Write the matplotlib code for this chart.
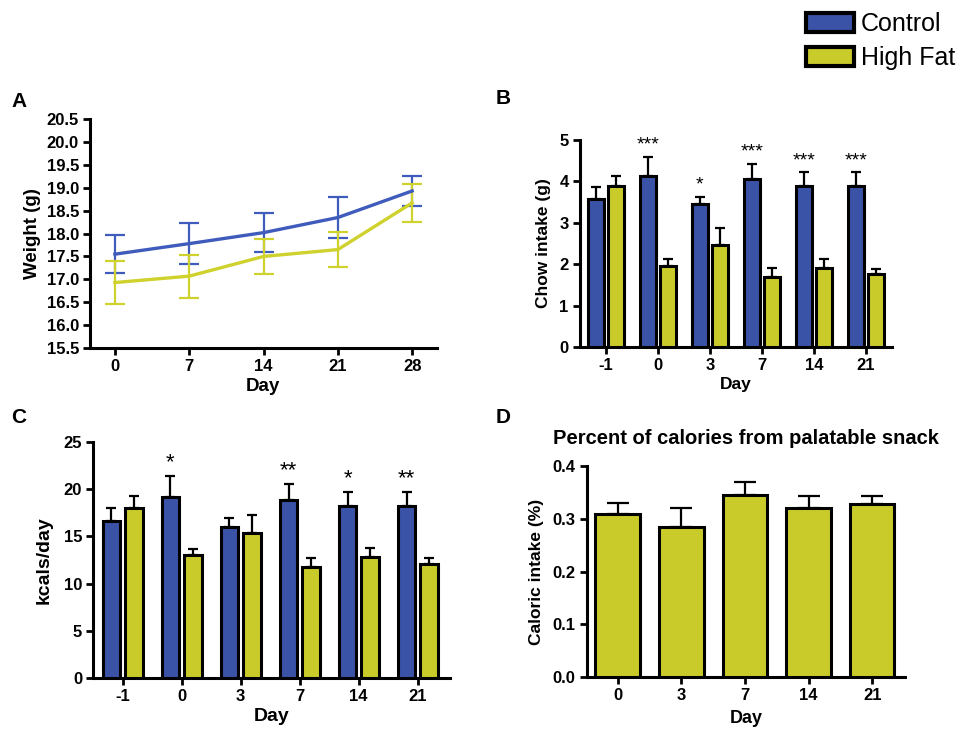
import numpy as np
import matplotlib
matplotlib.use("Agg")
import matplotlib.pyplot as plt
from matplotlib.patches import Patch
import matplotlib.ticker as mticker

plt.rcParams['font.family'] = ['Liberation Sans', 'DejaVu Sans']
plt.rcParams['font.weight'] = 'bold'

BLUE = '#3a53a6'
YELLOW = '#c9cb2a'
LINE_BLUE = '#3f5cbc'
LINE_YELLOW = '#cfd22c'

# A: body weight
days_a = [0, 7, 14, 21, 28]
ctrl_w = [17.55, 17.78, 18.02, 18.35, 18.93]
ctrl_w_err = [0.42, 0.45, 0.42, 0.45, 0.33]
hf_w = [16.93, 17.07, 17.50, 17.65, 18.67]
hf_w_err = [0.46, 0.47, 0.38, 0.38, 0.42]

# B: chow intake
days_bc = ['-1', '0', '3', '7', '14', '21']
ctrl_chow = [3.57, 4.12, 3.45, 4.05, 3.90, 3.90]
ctrl_chow_err = [0.30, 0.48, 0.18, 0.37, 0.32, 0.32]
hf_chow = [3.88, 1.95, 2.47, 1.70, 1.90, 1.77]
hf_chow_err = [0.25, 0.17, 0.41, 0.20, 0.23, 0.11]
stars_b = ['', '***', '*', '***', '***', '***']

# C: kcal/day
ctrl_kcal = [16.6, 19.2, 16.0, 18.9, 18.2, 18.2]
ctrl_kcal_err = [1.4, 2.2, 1.0, 1.6, 1.5, 1.5]
hf_kcal = [18.0, 13.0, 15.4, 11.8, 12.8, 12.1]
hf_kcal_err = [1.3, 0.7, 1.9, 0.9, 1.0, 0.6]
stars_c = ['', '*', '', '**', '*', '**']

# D: percent calories from snack
days_d = ['0', '3', '7', '14', '21']
snack = [0.310, 0.284, 0.345, 0.320, 0.328]
snack_err = [0.020, 0.036, 0.025, 0.023, 0.015]

fig = plt.figure(figsize=(9.6, 7.35), dpi=100)

def style(ax):
    for s in ['top', 'right']:
        ax.spines[s].set_visible(False)
    for s in ['left', 'bottom']:
        ax.spines[s].set_linewidth(2.2)
    ax.tick_params(width=2, length=5, labelsize=12, direction='out', pad=3)
    for lab in ax.get_xticklabels() + ax.get_yticklabels():
        lab.set_fontweight('bold')

# ---- A
axA = fig.add_axes([0.09375, 0.5265, 0.361, 0.3115])
axA.errorbar(days_a, ctrl_w, yerr=ctrl_w_err, color=LINE_BLUE, lw=2.4,
             elinewidth=1.6, capsize=7, capthick=1.6)
axA.errorbar(days_a, hf_w, yerr=hf_w_err, color=LINE_YELLOW, lw=2.4,
             elinewidth=1.6, capsize=7, capthick=1.6)
axA.set_xlim(-2.35, 30.3)
axA.set_ylim(15.5, 20.5)
axA.set_xticks(days_a)
axA.set_yticks(np.arange(15.5, 20.51, 0.5))
axA.yaxis.set_major_formatter(mticker.FormatStrFormatter('%.1f'))
axA.set_ylabel('Weight (g)', fontsize=13.5, fontweight='bold', labelpad=4)
axA.set_xlabel('Day', fontsize=13.5, fontweight='bold', labelpad=3)
style(axA)

def grouped(ax, c, ce, h, he, stars, off, sfs):
    x = np.arange(len(c))
    w = 0.3
    ax.bar(x - 0.19, c, w, color=BLUE, edgecolor='black', lw=2.2, zorder=3)
    ax.bar(x + 0.19, h, w, color=YELLOW, edgecolor='black', lw=2.2, zorder=3)
    ax.errorbar(x - 0.19, c, yerr=[np.zeros(len(c)), ce], fmt='none', ecolor='black',
                elinewidth=1.6, capsize=3.5, capthick=1.6, zorder=2)
    ax.errorbar(x + 0.19, h, yerr=[np.zeros(len(h)), he], fmt='none', ecolor='black',
                elinewidth=1.6, capsize=3.5, capthick=1.6, zorder=2)
    for xi, yi, ei, s in zip(x, c, ce, stars):
        if s:
            ax.text(xi - 0.19, yi + ei + off, s, ha='center', va='bottom', fontsize=sfs,
                    fontweight='normal')
    ax.set_xticks(x)

# ---- B
axB = fig.add_axes([0.604, 0.528, 0.325, 0.2815])
grouped(axB, ctrl_chow, ctrl_chow_err, hf_chow, hf_chow_err, stars_b, 0.08, 14)
axB.set_xticklabels(days_bc)
axB.set_xlim(-0.5, 5.5)
axB.set_ylim(0, 5)
axB.set_yticks(range(0, 6))
axB.set_ylabel('Chow intake (g)', fontsize=12.5, fontweight='bold', labelpad=6)
axB.set_xlabel('Day', fontsize=12.5, fontweight='bold', labelpad=3)
style(axB)

# ---- C
axC = fig.add_axes([0.097, 0.0776, 0.372, 0.321])
grouped(axC, ctrl_kcal, ctrl_kcal_err, hf_kcal, hf_kcal_err, stars_c, 0.35, 16)
axC.set_xticklabels(days_bc)
axC.set_xlim(-0.5, 5.55)
axC.set_ylim(0, 25)
axC.set_yticks(range(0, 26, 5))
axC.set_ylabel('kcals/day', fontsize=14, fontweight='bold', labelpad=8)
axC.set_xlabel('Day', fontsize=14, fontweight='bold', labelpad=3)
style(axC)

# ---- D
axD = fig.add_axes([0.611, 0.0789, 0.332, 0.287])
xd = np.arange(len(snack))
axD.bar(xd, snack, 0.7, color=YELLOW, edgecolor='black', lw=2.2, zorder=3)
axD.errorbar(xd, snack, yerr=[np.zeros(len(snack)), snack_err], fmt='none', ecolor='black',
             elinewidth=1.6, capsize=8, capthick=1.6, zorder=2)
axD.set_xticks(xd)
axD.set_xticklabels(days_d)
axD.set_xlim(-0.49, 4.52)
axD.set_ylim(0, 0.4)
axD.set_yticks(np.arange(0, 0.41, 0.1))
axD.yaxis.set_major_formatter(mticker.FormatStrFormatter('%.1f'))
axD.set_ylabel('Caloric intake (%)', fontsize=12.5, fontweight='bold', labelpad=6)
axD.set_xlabel('Day', fontsize=13, fontweight='bold', labelpad=5)
axD.set_title('Percent of calories from palatable snack', fontsize=14.5, fontweight='bold', pad=16)
style(axD)

# panel letters
for lbl, x, y in [('A', 0.012, 0.862), ('B', 0.516, 0.866), ('C', 0.012, 0.432), ('D', 0.516, 0.432)]:
    fig.text(x, y, lbl, fontsize=15, fontweight='bold', ha='left', va='center')

# legend
handles = [Patch(facecolor=BLUE, edgecolor='black', lw=3, label='Control'),
           Patch(facecolor=YELLOW, edgecolor='black', lw=3, label='High Fat')]
leg = fig.legend(handles=handles, loc='upper right', bbox_to_anchor=(1.018, 1.014),
                 frameon=False, prop={'size': 18, 'weight': 'normal'},
                 handlelength=1.95, handleheight=0.75, handletextpad=0.25, labelspacing=0.4)

fig.savefig('out.png', dpi=100)
